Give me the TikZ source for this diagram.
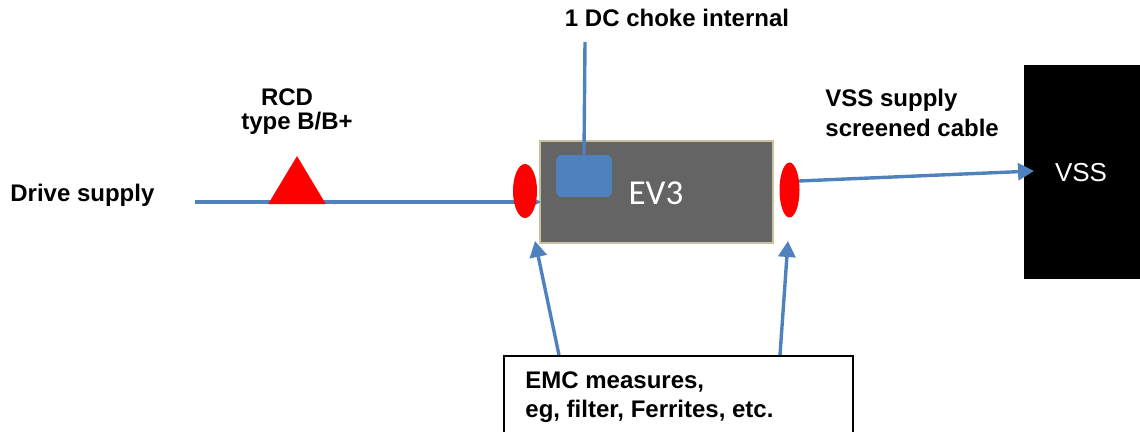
\documentclass[tikz,border=0pt]{standalone}
\usepackage{fontspec}
\setmainfont{Liberation Sans}
\newfontfamily\calib{Carlito}
\usetikzlibrary{arrows.meta,shapes.geometric}
\definecolor{lblue}{HTML}{4F81BD}
\definecolor{boxgray}{HTML}{646464}
\definecolor{tan}{HTML}{C9C29E}
\tikzset{
  conn/.style={draw=lblue,line width=1.7pt},
  arr/.style={conn,-{Triangle[length=8pt,width=8.5pt]}},
  lbl/.style={font=\bfseries\fontsize{12}{14}\selectfont,inner sep=0pt},
  seal/.style={ellipse,fill=red,draw=none,inner sep=0pt},
}
\begin{document}
\begin{tikzpicture}[x=0.5pt,y=-0.5pt]
\useasboundingbox (0,0) rectangle (1140,432);
% EV3 box
\node[draw=tan,line width=0.8pt,fill=boxgray,minimum width=116.5pt,minimum height=51pt,inner sep=0pt] (ev3) at (656.5,192) {};
\node[font=\calib\fontsize{17.5}{20}\selectfont,text=white,inner sep=0pt] (ev3t) at (656,193) {EV3};
\node[fill=lblue,rounded corners=3pt,minimum width=28pt,minimum height=21pt,inner sep=0pt] (choke) at (584,176) {};
% VSS box
\node[fill=black,minimum width=58pt,minimum height=107pt,inner sep=0pt,anchor=north west] (vss) at (1024,65) {};
\node[text=white,font=\fontsize{13}{15}\selectfont,inner sep=0pt] (vsst) at (1081,173) {VSS};
% EMC box
\node[draw=black,line width=0.8pt,fill=white,minimum width=174.5pt,minimum height=45pt,inner sep=0pt,anchor=north west] (emc) at (503,355) {};
\node[lbl,anchor=north west,align=left] (emct) at (525,371) {EMC measures,\\[0.6pt]eg, filter, Ferrites, etc.};
% labels
\node[lbl,anchor=west] (drive) at (10,195) {Drive supply};
\node[lbl] (rcd1) at (287,97) {RCD};
\node[lbl] (rcd2) at (297,123) {type B/B+};
\node[lbl] (chokelbl) at (677,18) {1 DC choke internal};
\node[lbl,anchor=west] (vss1) at (825,100) {VSS supply};
\node[lbl,anchor=west] (vss2) at (825,128) {screened cable};
% connectors
\coordinate (dstart) at (195,202);
\coordinate (dend) at (541,202);
\draw[arr] (dstart) -- (dend);
\coordinate (ctop) at (585,42);
\draw[conn] (ctop) -- (choke.north);
\node[fill=red,isosceles triangle,isosceles triangle apex angle=62,shape border rotate=90,minimum height=24pt,inner sep=0pt,anchor=south] (rcd) at (297,204.5) {};
\node[seal,minimum width=12pt,minimum height=27pt] (sealL) at (525,191) {};
\node[seal,minimum width=10pt,minimum height=27.5pt] (sealR) at (789.5,190) {};
\coordinate (vssout) at (799,181);
\coordinate (vssin) at (1034,171);
\draw[arr] (vssout) -- (vssin);
\coordinate (emcL) at (559,355);
\coordinate (emcLt) at (535,241);
\coordinate (emcR) at (780,355);
\coordinate (emcRt) at (788,241);
\draw[arr] (emcL) -- (emcLt);
\draw[arr] (emcR) -- (emcRt);
\end{tikzpicture}
\end{document}
